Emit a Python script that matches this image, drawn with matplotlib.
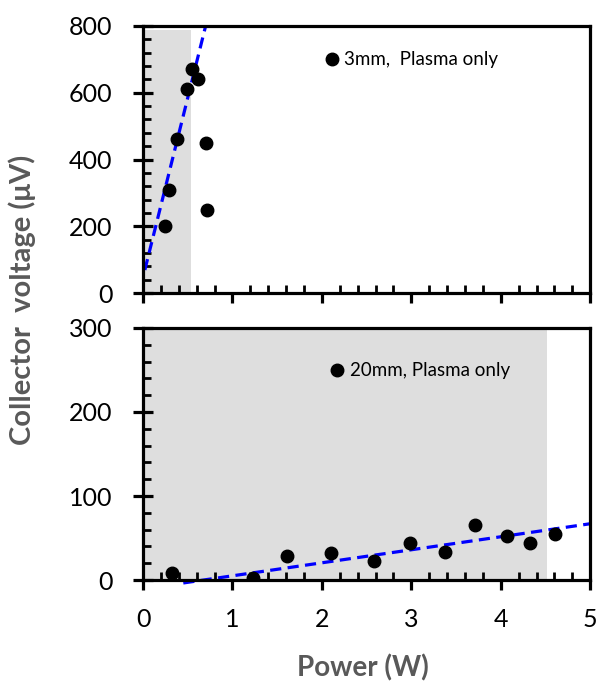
import matplotlib.pyplot as plt
from matplotlib.ticker import MultipleLocator

plt.rcParams['font.family'] = ['Lato', 'DejaVu Sans']

# 3 mm gap
power_3mm = [0.24, 0.29, 0.38, 0.49, 0.55, 0.61, 0.70, 0.72]
volt_3mm = [200, 310, 460, 610, 670, 640, 450, 250]
fit_3mm_x = [0.02, 0.70]
fit_3mm_y = [69, 800]
shade_3mm = 0.54

# 20 mm gap
power_20mm = [0.32, 1.23, 1.61, 2.10, 2.58, 2.98, 3.38, 3.71, 4.07, 4.33, 4.61]
volt_20mm = [8, 3, 29, 32, 23, 44, 33, 65, 53, 44, 55]
fit_20mm_x = [0.45, 5.0]
fit_20mm_y = [-3.5, 67]
shade_20mm = 4.52

grey_txt = '#595959'
shade_col = '#dedede'

fig = plt.figure(figsize=(6.01, 6.84), dpi=100)
ax1 = fig.add_axes([0.238, 0.5716, 0.744, 0.3904])
ax2 = fig.add_axes([0.238, 0.152, 0.744, 0.3685])


def style(ax, ymax, ymaj, ymin):
    ax.set_xlim(0, 5)
    ax.set_ylim(0, ymax)
    ax.xaxis.set_major_locator(MultipleLocator(1))
    ax.xaxis.set_minor_locator(MultipleLocator(0.2))
    ax.yaxis.set_major_locator(MultipleLocator(ymaj))
    ax.yaxis.set_minor_locator(MultipleLocator(ymin))
    for s in ax.spines.values():
        s.set_linewidth(2.3)
        s.set_zorder(5)
    ax.tick_params(which='major', direction='out', length=7, width=2.3, labelsize=18)
    ax.tick_params(axis='x', which='major', pad=13)
    ax.tick_params(axis='y', which='major', direction='inout', length=14, pad=15)
    ax.tick_params(which='minor', direction='in', length=6, width=2.0)


style(ax1, 800, 200, 40)
style(ax2, 300, 100, 20)
ax1.tick_params(axis='x', labelbottom=False)

ax1.axvspan(0, shade_3mm, ymax=0.985, color=shade_col, lw=0, zorder=0)
ax2.axvspan(0, shade_20mm, color=shade_col, lw=0, zorder=0)

ax1.plot(fit_3mm_x, fit_3mm_y, color='#0000ff', ls='--', lw=2.3, dashes=(3.5, 2), zorder=2)
ax2.plot(fit_20mm_x, fit_20mm_y, color='#0000ff', ls='--', lw=2.3, dashes=(3.5, 2), zorder=2,
         clip_on=False)

ax1.plot(power_3mm, volt_3mm, 'o', color='black', ms=9, ls='none', zorder=3,
         label='3mm,  Plasma only')
ax2.plot(power_20mm, volt_20mm, 'o', color='black', ms=9, ls='none', zorder=3,
         label='20mm, Plasma only')

for ax, pos in [(ax1, (0.405, 0.873)), (ax2, (0.418, 0.83))]:
    ax.legend(loc='center left', bbox_to_anchor=pos, frameon=False, fontsize=13.5,
              handlelength=0.8, handletextpad=0.25, borderpad=0, borderaxespad=0)

fig.text(0.037, 0.561, 'Collector  voltage (\u03bcV)', rotation=90, ha='center', va='center',
         fontsize=21, fontweight='bold', color=grey_txt)
fig.text(0.603, 0.024, 'Power (W)', ha='center', va='center',
         fontsize=20, fontweight='bold', color=grey_txt)

fig.savefig('out.png', dpi=100)
